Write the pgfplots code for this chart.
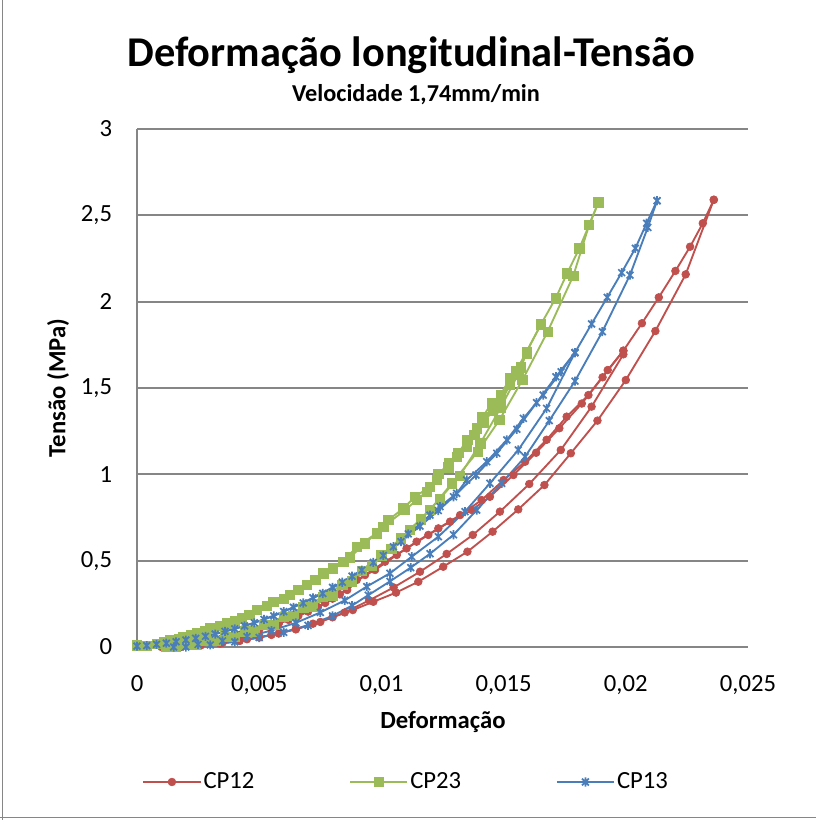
\documentclass[border=0pt]{standalone}
\usepackage{fontspec}
\setmainfont{Carlito}
\usepackage{pgfplots}
\pgfplotsset{compat=1.18}
\definecolor{cpred}{RGB}{192,80,77}
\definecolor{cpgreen}{RGB}{155,187,89}
\definecolor{cpblue}{RGB}{74,126,187}
\definecolor{gridgray}{RGB}{134,134,134}
\pgfdeclareplotmark{xstar}{%
  \pgfpathmoveto{\pgfqpoint{-.75\pgfplotmarksize}{-.75\pgfplotmarksize}}%
  \pgfpathlineto{\pgfqpoint{.75\pgfplotmarksize}{.75\pgfplotmarksize}}%
  \pgfpathmoveto{\pgfqpoint{-.75\pgfplotmarksize}{.75\pgfplotmarksize}}%
  \pgfpathlineto{\pgfqpoint{.75\pgfplotmarksize}{-.75\pgfplotmarksize}}%
  \pgfpathmoveto{\pgfqpoint{0pt}{-\pgfplotmarksize}}%
  \pgfpathlineto{\pgfqpoint{0pt}{\pgfplotmarksize}}%
  \pgfusepathqstroke}
\pgfplotsset{
  redS/.style={cpred, line width=1.4pt, mark=*, mark size=2.9pt, mark options={solid,fill=cpred,draw=cpred,line width=0.5pt}},
  greenS/.style={cpgreen, line width=1.4pt, mark=square*, mark size=3.5pt, mark options={solid,fill=cpgreen,draw=cpgreen,line width=0.5pt}},
  blueS/.style={cpblue, line width=1.4pt, mark=xstar, mark size=3.4pt, mark options={solid,line width=1.3pt}},
}
\begin{document}
\begin{tikzpicture}
\path[use as bounding box] (0,0) rectangle (612pt,615pt);
\begin{axis}[
  at={(102.75pt,129.75pt)}, anchor=south west,
  scale only axis, width=458.25pt, height=388.5pt,
  xmin=0, xmax=0.025, ymin=0, ymax=3,
  clip=false,
  axis lines*=left,
  axis line style={gridgray, line width=1.4pt},
  ymajorgrids, grid style={gridgray, line width=1.4pt},
  major tick length=0pt,
  scaled x ticks=false, scaled y ticks=false,
  xtick={0,0.005,0.01,0.015,0.02,0.025},
  xticklabels={0,{0,005},{0,01},{0,015},{0,02},{0,025}},
  ytick={0,0.5,1,1.5,2,2.5,3},
  yticklabels={0,{0,5},1,{1,5},2,{2,5},3},
  tick label style={font=\fontsize{18.5}{22}\selectfont, inner sep=0pt},
  yticklabel style={anchor=east, xshift=-18.5pt},
  xticklabel style={anchor=north, yshift=-21pt},
  legend image code/.code={\draw[mark repeat=2,mark phase=2] plot coordinates {(0pt,0pt) (21.5pt,0pt) (43pt,0pt)};},
  legend style={at={(0.4405,-0.2606)}, anchor=center, draw=none, fill=none, legend columns=3,
    font=\fontsize{18.5}{22}\selectfont, nodes={inner sep=1.5pt},
    /tikz/every even column/.append style={column sep=69.5pt}},
]
% ---- CP12 ----
\addplot[redS] coordinates {(0.001,0) (0.0018,0.01) (0.0026,0.025) (0.0034,0.045) (0.0042,0.07) (0.005,0.1) (0.0058,0.135) (0.0066,0.18) (0.0074,0.23) (0.008,0.28) (0.0086,0.33) (0.00933,0.417) (0.01015,0.494) (0.01103,0.571) (0.01192,0.649) (0.01281,0.726) (0.0137,0.793) (0.01444,0.87) (0.0154,0.996) (0.01633,1.125) (0.01728,1.267) (0.0182,1.41) (0.01905,1.562) (0.0199,1.716) (0.02066,1.875) (0.02135,2.025) (0.02203,2.178) (0.02263,2.318) (0.02315,2.454) (0.0236,2.59)};
\addlegendentry{CP12}
\addplot[redS, forget plot] coordinates {(0.0014,0.005) (0.0022,0.017) (0.003,0.035) (0.0038,0.057) (0.0046,0.085) (0.0054,0.118) (0.0062,0.157) (0.007,0.205) (0.0077,0.255) (0.0083,0.305) (0.00899,0.388) (0.00974,0.446) (0.01063,0.533) (0.01144,0.61) (0.01233,0.687) (0.01322,0.764) (0.0141,0.851) (0.015,0.967) (0.01588,1.073) (0.01676,1.2) (0.01758,1.334) (0.01847,1.459) (0.01926,1.604) (0.0199,1.716)};
\addplot[redS, forget plot] coordinates {(0.0015,0) (0.0025,0.012) (0.0035,0.025) (0.0045,0.045) (0.0055,0.07) (0.0065,0.102) (0.0075,0.145) (0.0085,0.2) (0.0095,0.27) (0.0105,0.345) (0.01158,0.436) (0.01267,0.539) (0.01374,0.649) (0.01485,0.784) (0.01605,0.944) (0.01734,1.141) (0.0186,1.392) (0.0199,1.695)};
\addplot[redS, forget plot] coordinates {(0.0018,0) (0.0026,0.008) (0.0034,0.02) (0.0042,0.035) (0.005,0.055) (0.0058,0.078) (0.0065,0.105) (0.0072,0.135) (0.008,0.172) (0.00883,0.214) (0.00967,0.262) (0.0106,0.315) (0.01151,0.378) (0.01253,0.465) (0.01352,0.552) (0.01455,0.668) (0.0156,0.797) (0.01667,0.938) (0.01775,1.122) (0.01884,1.311) (0.02,1.546) (0.02121,1.83) (0.02245,2.158) (0.0236,2.59)};
% ---- CP23 ----
\addplot[greenS] coordinates {(0,0.01) (0.0008,0.02) (0.00135,0.04) (0.0019,0.06) (0.00244,0.079) (0.003,0.108) (0.00367,0.137) (0.00428,0.166) (0.0049,0.214) (0.00558,0.262) (0.00626,0.301) (0.00694,0.359) (0.00762,0.427) (0.00844,0.494) (0.00899,0.581) (0.0098,0.658) (0.01028,0.735) (0.0109,0.803) (0.01137,0.87) (0.01199,0.928) (0.01233,1.002) (0.01277,1.064) (0.01315,1.125) (0.01352,1.199) (0.0139,1.267) (0.01413,1.33) (0.01451,1.411) (0.01488,1.46) (0.01526,1.556) (0.01551,1.598) (0.01594,1.71) (0.01653,1.869) (0.01713,2.02) (0.0176,2.164) (0.0181,2.309) (0.0185,2.444) (0.01888,2.575)};
\addlegendentry{CP23}
\addplot[greenS, forget plot] coordinates {(0.0004,0.005) (0.0011,0.028) (0.0017,0.048) (0.0022,0.068) (0.0028,0.092) (0.0034,0.122) (0.004,0.15) (0.0046,0.188) (0.0053,0.238) (0.006,0.28) (0.0066,0.33) (0.0073,0.39) (0.008,0.455) (0.00872,0.52) (0.00933,0.6) (0.01008,0.697) (0.01097,0.793) (0.01144,0.851) (0.01185,0.9) (0.01226,0.967) (0.01274,1.04) (0.01308,1.1) (0.0135,1.16) (0.0138,1.23) (0.0142,1.3) (0.01455,1.37) (0.0149,1.42) (0.01526,1.52) (0.0157,1.62) (0.01594,1.7)};
\addplot[greenS, forget plot] coordinates {(0.0012,0) (0.002,0.015) (0.0028,0.035) (0.0036,0.06) (0.0044,0.09) (0.0052,0.13) (0.006,0.175) (0.0068,0.23) (0.0076,0.29) (0.0084,0.36) (0.0092,0.44) (0.01,0.53) (0.0108,0.63) (0.0116,0.74) (0.0124,0.86) (0.0132,0.99) (0.01405,1.18) (0.01488,1.386) (0.0156,1.58) (0.01594,1.71) (0.01653,1.869)};
\addplot[greenS, forget plot] coordinates {(0.0016,0) (0.0024,0.015) (0.0032,0.035) (0.004,0.06) (0.0048,0.09) (0.0056,0.13) (0.0064,0.18) (0.0072,0.235) (0.008,0.3) (0.0088,0.38) (0.0096,0.47) (0.0104,0.57) (0.01117,0.68) (0.01199,0.793) (0.01288,0.948) (0.01394,1.131) (0.01483,1.315) (0.01577,1.546) (0.0168,1.826) (0.01785,2.149) (0.0185,2.444) (0.01888,2.575)};
% ---- CP13 ----
\addplot[blueS] coordinates {(0,0.005) (0.0008,0.015) (0.0016,0.03) (0.0024,0.05) (0.0032,0.075) (0.004,0.105) (0.0048,0.14) (0.0056,0.18) (0.0064,0.23) (0.0072,0.285) (0.008,0.345) (0.0088,0.41) (0.00967,0.49) (0.01049,0.581) (0.0111,0.655) (0.01199,0.764) (0.0124,0.813) (0.01308,0.89) (0.01349,0.967) (0.01431,1.073) (0.01513,1.199) (0.01581,1.324) (0.01662,1.459) (0.01735,1.594) (0.01792,1.705) (0.0186,1.871) (0.01924,2.025) (0.01983,2.168) (0.02039,2.309) (0.02085,2.454) (0.02128,2.585)};
\addlegendentry{CP13}
\addplot[blueS, forget plot] coordinates {(0.0004,0.008) (0.0012,0.022) (0.002,0.04) (0.0028,0.062) (0.0036,0.09) (0.0044,0.122) (0.0052,0.16) (0.006,0.205) (0.0068,0.255) (0.0076,0.31) (0.0084,0.375) (0.0092,0.445) (0.01008,0.53) (0.0108,0.61) (0.01158,0.7) (0.01233,0.79) (0.01295,0.87) (0.01387,0.996) (0.01472,1.122) (0.01554,1.261) (0.01635,1.415) (0.01714,1.565) (0.01792,1.705)};
\addplot[blueS, forget plot] coordinates {(0.0015,0) (0.0025,0.015) (0.0035,0.035) (0.0045,0.06) (0.0055,0.095) (0.0065,0.14) (0.0075,0.2) (0.0085,0.27) (0.0094,0.35) (0.01035,0.427) (0.01124,0.523) (0.01233,0.639) (0.01342,0.784) (0.01444,0.948) (0.0156,1.141) (0.01676,1.382) (0.01792,1.705)};
\addplot[blueS, forget plot] coordinates {(0.002,0) (0.003,0.012) (0.004,0.03) (0.005,0.055) (0.006,0.085) (0.007,0.125) (0.008,0.18) (0.0088,0.24) (0.00946,0.3) (0.01035,0.38) (0.0112,0.46) (0.01199,0.54) (0.01295,0.65) (0.0139,0.793) (0.01492,0.948) (0.01588,1.102) (0.01687,1.311) (0.01792,1.54) (0.01904,1.826) (0.02017,2.154) (0.0209,2.43) (0.02128,2.585)};
\end{axis}
\node[font=\bfseries\fontsize{31.8}{36}\selectfont] at (308.5pt,573.75pt) {Deformação longitudinal-Tensão};
\node[font=\bfseries\fontsize{18.2}{22}\selectfont] at (312pt,543.75pt) {Velocidade 1,74mm/min};
\node[font=\bfseries\fontsize{18.5}{22}\selectfont] at (332.25pt,73.5pt) {Deformação};
\node[font=\bfseries\fontsize{18.5}{22}\selectfont, rotate=90] at (43.5pt,324pt) {Tensão (MPa)};
\draw[gridgray, line width=0.75pt] (2pt,0pt) -- (2pt,615pt);
\draw[gridgray, line width=0.75pt] (0pt,1.5pt) -- (612pt,1.5pt);
\end{tikzpicture}
\end{document}
